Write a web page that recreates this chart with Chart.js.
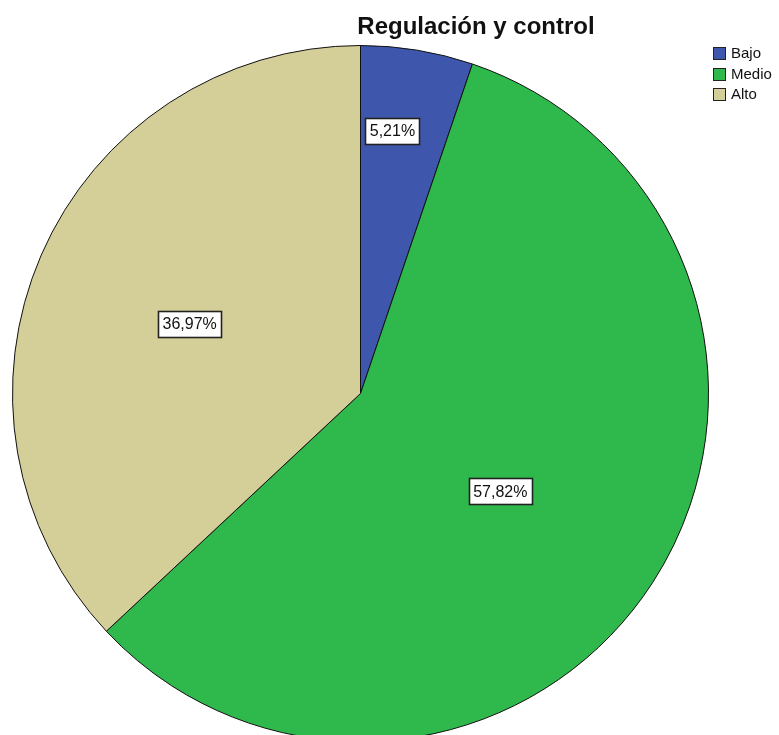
<!DOCTYPE html>
<html lang="es">
<head>
  <meta charset="UTF-8">
  <title>Regulación y control</title>
  <script src="https://cdn.jsdelivr.net/npm/chart.js"></script>
  <style>
    * { margin: 0; padding: 0; box-sizing: border-box; }
    html, body { width: 779px; height: 735px; overflow: hidden; background: #fff; }
    #wrap { width: 779px; height: 735px; overflow: hidden; }
  </style>
</head>
<body>
  <div id="wrap">
    <canvas id="pie" width="779" height="760"></canvas>
  </div>
  <script>
    const titleText = 'Regulación y control';
    const categories = ['Bajo', 'Medio', 'Alto'];
    const percents = [5.21, 57.82, 36.97];
    const sliceColors = ['#3e56ab', '#2fb84b', '#d4cf98'];

    // label box placement per slice: share of the slice's angle, share of the radius
    const labelAngle = [0.37, 0.51, 0.49];
    const labelRadius = [0.76, 0.49, 0.53];

    const fmt = v => v.toFixed(2).replace('.', ',') + '%';

    // boxed percentage labels inside the slices
    const sliceLabels = {
      id: 'sliceLabels',
      afterDatasetsDraw(chart) {
        const ctx = chart.ctx;
        const meta = chart.getDatasetMeta(0);
        ctx.save();
        ctx.font = '16px "Liberation Sans", Arial, sans-serif';
        ctx.textAlign = 'center';
        ctx.textBaseline = 'middle';
        meta.data.forEach((arc, i) => {
          const p = arc.getProps(['x', 'y', 'startAngle', 'endAngle', 'outerRadius'], true);
          const a = p.startAngle + (p.endAngle - p.startAngle) * labelAngle[i];
          const r = p.outerRadius * labelRadius[i];
          const x = p.x + Math.cos(a) * r;
          const y = p.y + Math.sin(a) * r;
          const txt = fmt(percents[i]);
          const w = Math.round(ctx.measureText(txt).width + 9);
          const h = 26;
          const bx = Math.round(x - w / 2) + 0.5;
          const by = Math.round(y - h / 2) + 0.5;
          ctx.fillStyle = '#fff';
          ctx.fillRect(bx, by, w, h);
          ctx.strokeStyle = '#222';
          ctx.lineWidth = 1.6;
          ctx.strokeRect(bx, by, w, h);
          ctx.fillStyle = '#111';
          ctx.fillText(txt, x, y + 1);
        });
        ctx.restore();
      }
    };

    // title and the small legend in the top right corner
    const header = {
      id: 'header',
      afterDraw(chart) {
        const ctx = chart.ctx;
        ctx.save();
        ctx.fillStyle = '#111';
        ctx.font = 'bold 24px "Liberation Sans", Arial, sans-serif';
        ctx.textAlign = 'center';
        ctx.textBaseline = 'middle';
        ctx.fillText(titleText, 476, 27);

        ctx.font = '15px "Liberation Sans", Arial, sans-serif';
        ctx.textAlign = 'left';
        categories.forEach((c, i) => {
          const y = Math.round(47 + i * 20.5);
          ctx.fillStyle = sliceColors[i];
          ctx.fillRect(713.5, y + 0.5, 12, 12);
          ctx.strokeStyle = '#222';
          ctx.lineWidth = 1;
          ctx.strokeRect(713.5, y + 0.5, 12, 12);
          ctx.fillStyle = '#111';
          ctx.fillText(c, 731, y + 7);
        });
        ctx.restore();
      }
    };

    new Chart(document.getElementById('pie'), {
      type: 'pie',
      data: {
        labels: categories,
        datasets: [{
          data: percents,
          backgroundColor: sliceColors,
          borderColor: '#111',
          borderWidth: 1
        }]
      },
      options: {
        responsive: false,
        animation: false,
        layout: { padding: { left: 12, right: 70, top: 45, bottom: 18 } },
        plugins: {
          legend: { display: false },
          tooltip: { enabled: false },
          title: { display: false }
        }
      },
      plugins: [sliceLabels, header]
    });
  </script>
</body>
</html>
